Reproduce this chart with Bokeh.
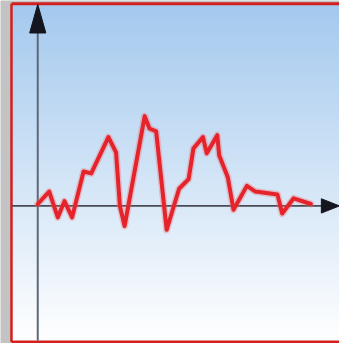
import numpy as np
from bokeh.plotting import figure
from bokeh.models import Range1d
from bokeh.embed import file_html
from bokeh.resources import INLINE

# Series (x = time step offset from the vertical axis, y = signal value)
t_values = [0, 12, 21, 28, 36, 48, 56, 74, 82, 86, 91, 112, 117, 124, 135,
            148, 158, 163, 173, 177, 188, 190, 199, 205, 219, 228, 251, 256, 268, 286]
signal = [2, 15, -12, 5, -12, 36, 34, 72, 56, 0, -21, 94, 81, 78, -25,
          18, 28, 60, 72, 55, 74, 53, 30, -4, 21, 15, 12, -8, 8, 2]

X0, X1 = -39, 316
Y0, Y1 = -144, 215

p = figure(width=339, height=343, x_range=Range1d(X0, X1), y_range=Range1d(Y0, Y1),
           output_backend="svg", toolbar_location=None,
           x_axis_location=None, y_axis_location=None,
           min_border=0, min_border_left=0, min_border_right=0,
           min_border_top=0, min_border_bottom=0)
p.grid.visible = False
p.outline_line_color = None
p.background_fill_color = "#c3c3c3"
p.border_fill_color = "#c3c3c3"

# vertical gradient background
n = 256
top_c = np.array([164, 201, 238])
bot_c = np.array([255, 255, 255])
frac = np.linspace(0, 1, n)  # 0 at bottom row
rgb = (bot_c[None, :] + (top_c - bot_c)[None, :] * frac[:, None]).astype(np.uint8)
img = np.empty((n, 1), dtype=np.uint32)
view = img.view(dtype=np.uint8).reshape((n, 1, 4))
view[:, 0, 0] = rgb[:, 0]
view[:, 0, 1] = rgb[:, 1]
view[:, 0, 2] = rgb[:, 2]
view[:, 0, 3] = 255
p.image_rgba(image=[img], x=-27.5, y=-142.5, dw=X1 + 27.5, dh=211.5 + 142.5)

# red frame
p.line([-27.5, -27.5], [-142.5, 211.5], line_color="#d41f1f", line_width=2.5)
p.line([-27.5, X1], [211.5, 211.5], line_color="#d41f1f", line_width=3)
p.line([-27.5, X1], [-142.5, -142.5], line_color="#d41f1f", line_width=3)

# axes
p.line([0, 0], [-141, 183], line_color="#5d6878", line_width=2)
p.line([-27, 298], [0, 0], line_color="#4a4a52", line_width=1.6)
p.patch([0, -8.5, 8.5], [211, 181, 181], fill_color="#15151f", line_color="#15151f")
p.patch([316, 297, 297], [0, 7.5, -7.5], fill_color="#15151f", line_color="#15151f")

# signal line with soft glow
p.line(t_values, signal, line_color="#f06a70", line_width=7, line_alpha=0.35,
       line_join="round", line_cap="round")
p.line(t_values, signal, line_color="#e4232b", line_width=4,
       line_join="round", line_cap="round")

open("out.html", "w").write(file_html(p, INLINE))
